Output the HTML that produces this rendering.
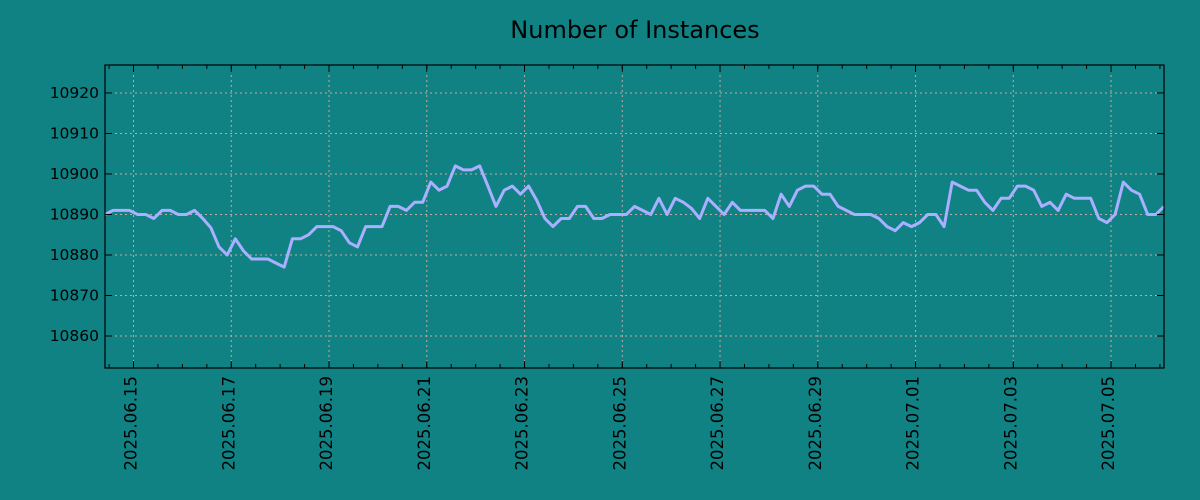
<!DOCTYPE html>
<html><head><meta charset="utf-8"><style>
html,body{margin:0;padding:0;background:#108284;}
svg{display:block;font-family:"DejaVu Sans","Liberation Sans",sans-serif;}
</style></head><body>
<svg id="chart" width="1200" height="500" xmlns="http://www.w3.org/2000/svg">
<rect x="0" y="0" width="1200" height="500" fill="#108284"/>
<text x="635" y="38" text-anchor="middle" font-size="24" fill="#000">Number of Instances</text>
<g id="grid"></g>
<g id="series"></g>
<g id="axes"></g>
</svg>
<script>
const startTime = Date.UTC(2025, 5, 14, 10, 0);
const stepHours = 4;
const values = [10890,10891,10891,10891,10890,10890,10889,10891,10891,10890,10890,10891,10889,10886.7,10882,10880,10884,10881,10879,10879,10879,10878,10877,10884,10884,10885,10887,10887,10887,10886,10883,10882,10887,10887,10887,10892,10892,10891,10893,10893,10898,10896,10897,10902,10901,10901,10902,10897,10892,10896,10897,10895,10897,10893.5,10889,10887,10889,10889,10892,10892,10889,10889,10890,10890,10890,10892,10891,10890,10894,10890,10894,10893,10891.5,10889,10894,10892,10890,10893,10891,10891,10891,10891,10889,10895,10892,10896,10897,10897,10895,10895,10892,10891,10890,10890,10890,10889,10887,10886,10888,10887,10888,10890,10890,10887,10898,10897,10896,10896,10893,10891,10894,10894,10897,10897,10896,10892,10893,10891,10895,10894,10894,10894,10889,10888,10890,10898,10896,10895,10890,10890,10892];
const yTicks = [10860,10870,10880,10890,10900,10910,10920];
const xTickLabels = ["2025.06.15","2025.06.17","2025.06.19","2025.06.21","2025.06.23","2025.06.25","2025.06.27","2025.06.29","2025.07.01","2025.07.03","2025.07.05"];

const NS = "http://www.w3.org/2000/svg";
const L = 105, R = 1164, T = 65, B = 368;
const yMin = 10852.1, yMax = 10926.9;
const times = values.map((v, i) => startTime + i * stepHours * 3600000);
const tMin = times[0], tMax = times[times.length - 1];
const xScale = t => L + (t - tMin) / (tMax - tMin) * (R - L);
const yScale = v => B - (v - yMin) / (yMax - yMin) * (B - T);
const parseLabel = s => { const p = s.split("."); return Date.UTC(+p[0], +p[1] - 1, +p[2]); };

function mk(tag, attrs, parent) {
  const el = document.createElementNS(NS, tag);
  for (const k in attrs) el.setAttribute(k, attrs[k]);
  parent.appendChild(el);
  return el;
}
const grid = document.getElementById("grid");
const axes = document.getElementById("axes");
const series = document.getElementById("series");
const gridColor = "#c4a8a0";

yTicks.forEach(v => {
  const y = yScale(v);
  const g = mk("line", {x1: L, x2: R, y1: y, y2: y, stroke: gridColor, "stroke-dasharray": "2,3", "stroke-width": 1}, grid);
  
  
  const t1 = mk("line", {x1: L, x2: L + 7, y1: y, y2: y, stroke: "#000", "stroke-width": 1}, axes);
  
  
  const t2 = mk("line", {x1: R - 7, x2: R, y1: y, y2: y, stroke: "#000", "stroke-width": 1}, axes);
  
  
  const lb = mk("text", {x: L - 6, y: y + 5, "text-anchor": "end", "font-size": 15.5, fill: "#000"}, axes);
  lb.textContent = v;
  
  
});

const firstDay = Date.UTC(2025, 5, 14, 12);
for (let t = firstDay; t <= tMax; t += 12 * 3600000) {
  const x = xScale(t);
  if (x < L || x > R) continue;
  const m1 = mk("line", {x1: x, x2: x, y1: B, y2: B - 4, stroke: "#000", "stroke-width": 1}, axes);
  
  
  const m2 = mk("line", {x1: x, x2: x, y1: T, y2: T + 4, stroke: "#000", "stroke-width": 1}, axes);
  
  
}

xTickLabels.forEach(s => {
  const x = xScale(parseLabel(s));
  const g = mk("line", {x1: x, x2: x, y1: T, y2: B, stroke: gridColor, "stroke-dasharray": "2,3", "stroke-width": 1}, grid);
  
  
  const t1 = mk("line", {x1: x, x2: x, y1: B, y2: B - 7, stroke: "#000", "stroke-width": 1}, axes);
  
  
  const t2 = mk("line", {x1: x, x2: x, y1: T, y2: T + 7, stroke: "#000", "stroke-width": 1}, axes);
  
  
  const lb = mk("text", {x: 0, y: 0, "text-anchor": "end", "font-size": 16.5, fill: "#000", transform: `translate(${x + 3},${B + 8}) rotate(-90)`}, axes);
  lb.textContent = s;
  
  
});

const frame = mk("rect", {x: L, y: T, width: R - L, height: B - T, fill: "none", stroke: "#000", "stroke-width": 1.2}, axes);



const d = values.map((v, i) => (i ? "L" : "M") + xScale(times[i]).toFixed(1) + "," + yScale(v).toFixed(1)).join(" ");
const line = mk("path", {d: d, fill: "none", stroke: "#aab0ff", "stroke-width": 3, "stroke-linejoin": "round"}, series);


</script>
</body></html>
